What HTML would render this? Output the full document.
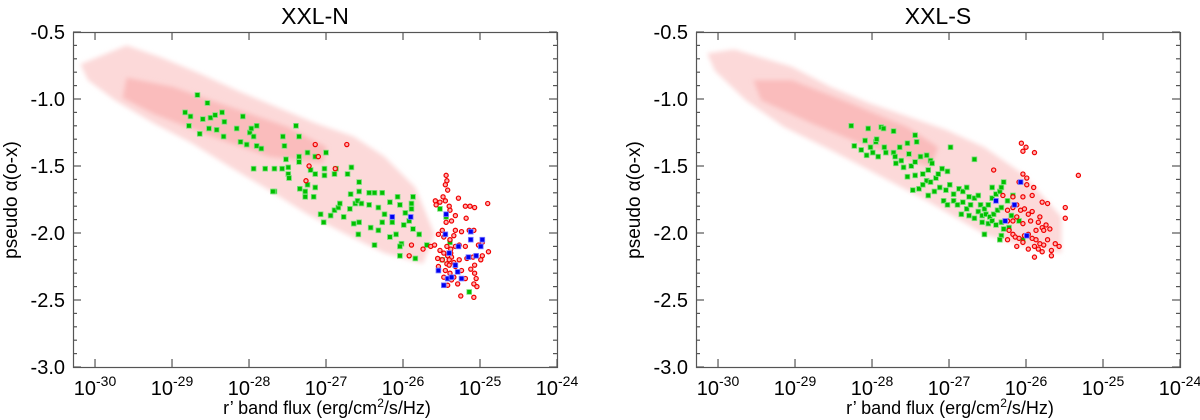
<!DOCTYPE html>
<html><head><meta charset="utf-8"><style>
html,body{margin:0;padding:0;background:#fff;width:1200px;height:420px;overflow:hidden}
svg text{font-family:"Liberation Sans",Arial,sans-serif;fill:#000}
</style></head><body>
<svg id="chart" width="1200" height="420" viewBox="0 0 1200 420" xmlns="http://www.w3.org/2000/svg">
<defs><filter id="soft" x="-10%" y="-10%" width="120%" height="120%"><feGaussianBlur stdDeviation="2.5"/></filter></defs>
</svg>
<script>
// ---- data (log10 r' flux, pseudo alpha_ox) ----
const xTickExps = [-30,-29,-28,-27,-26,-25,-24];
const yTickLabels = ["-0.5","-1.0","-1.5","-2.0","-2.5","-3.0"];
const yTickValues = [-0.5,-1.0,-1.5,-2.0,-2.5,-3.0];
const panelTitles = ["XXL-N","XXL-S"];

const cloudOuterN = [[-30.19,-0.74],[-29.59,-0.60],[-29.14,-0.69],[-28.64,-0.81],[-28.14,-0.94],[-27.64,-1.06],[-27.14,-1.18],[-26.64,-1.28],[-26.24,-1.43],[-25.84,-1.66],[-25.59,-2.01],[-25.74,-2.23],[-26.24,-2.15],[-26.74,-2.01],[-27.24,-1.86],[-27.74,-1.68],[-28.24,-1.51],[-28.74,-1.33],[-29.24,-1.18],[-29.74,-1.01],[-30.09,-0.86]];
const cloudCoreN = [[-29.59,-0.84],[-28.99,-0.91],[-28.24,-1.06],[-27.49,-1.21],[-26.99,-1.36],[-27.04,-1.48],[-27.74,-1.43],[-28.49,-1.28],[-29.24,-1.11],[-29.64,-0.99]];
const cloudOuterS = [[-30.14,-0.66],[-29.79,-0.63],[-29.04,-0.76],[-28.54,-0.91],[-28.04,-1.03],[-27.54,-1.13],[-27.04,-1.23],[-26.54,-1.36],[-26.04,-1.56],[-25.54,-1.88],[-25.54,-2.15],[-26.04,-2.10],[-26.54,-2.01],[-27.29,-1.76],[-28.04,-1.53],[-28.54,-1.38],[-29.14,-1.21],[-29.64,-1.01],[-30.04,-0.79]];
const cloudCoreS = [[-29.54,-0.86],[-29.04,-0.86],[-28.29,-1.03],[-27.54,-1.21],[-27.14,-1.36],[-27.24,-1.51],[-28.04,-1.36],[-28.79,-1.18],[-29.44,-1.01]];

const greenN = [[-28.67,-0.97],[-28.54,-1.03],[-28.83,-1.10],[-28.76,-1.13],[-28.78,-1.20],[-28.64,-1.26],[-28.60,-1.15],[-28.50,-1.14],[-28.44,-1.12],[-28.35,-1.10],[-28.32,-1.17],[-28.52,-1.22],[-28.42,-1.23],[-28.33,-1.28],[-28.16,-1.22],[-28.08,-1.13],[-28.11,-1.32],[-28.03,-1.34],[-27.99,-1.25],[-27.97,-1.22],[-27.90,-1.20],[-27.94,-1.28],[-27.90,-1.35],[-27.84,-1.37],[-27.56,-1.28],[-27.54,-1.35],[-27.39,-1.20],[-27.35,-1.28],[-27.52,-1.45],[-27.49,-1.51],[-27.57,-1.52],[-27.67,-1.52],[-27.94,-1.52],[-27.79,-1.52],[-27.49,-1.56],[-27.48,-1.59],[-27.35,-1.43],[-27.35,-1.47],[-27.24,-1.40],[-27.14,-1.43],[-27.00,-1.40],[-27.20,-1.53],[-27.14,-1.56],[-27.02,-1.52],[-27.02,-1.57],[-26.89,-1.56],[-26.87,-1.52],[-26.72,-1.56],[-26.67,-1.51],[-26.57,-1.62],[-26.68,-1.71],[-26.57,-1.69],[-26.44,-1.70],[-26.37,-1.70],[-26.27,-1.70],[-27.34,-1.67],[-27.24,-1.64],[-27.27,-1.69],[-27.14,-1.66],[-27.27,-1.73],[-27.16,-1.73],[-27.67,-1.69],[-27.69,-1.69],[-27.07,-1.86],[-27.03,-1.92],[-26.94,-1.87],[-26.89,-1.83],[-26.84,-1.81],[-26.82,-1.78],[-26.77,-1.88],[-26.69,-1.82],[-26.62,-1.78],[-26.59,-1.76],[-26.54,-1.78],[-26.64,-1.93],[-26.57,-1.92],[-26.58,-2.01],[-26.44,-1.79],[-26.32,-1.81],[-26.17,-1.77],[-26.07,-1.73],[-26.04,-1.79],[-25.89,-1.78],[-25.87,-1.73],[-25.89,-1.82],[-25.97,-1.85],[-25.92,-1.91],[-25.99,-1.94],[-25.87,-1.97],[-25.79,-2.01],[-26.24,-1.86],[-26.27,-1.92],[-26.42,-1.96],[-26.32,-1.98],[-26.14,-1.92],[-26.09,-2.01],[-26.17,-2.03],[-26.02,-2.08],[-26.04,-2.10],[-26.37,-2.09],[-26.04,-2.17],[-25.84,-2.19],[-25.69,-2.09],[-25.52,-1.82],[-25.44,-1.88],[-25.39,-2.07],[-25.49,-2.20],[-25.14,-2.44]];
const redN = [[-27.14,-1.34],[-27.10,-1.43],[-27.22,-1.50],[-26.88,-1.52],[-26.73,-1.34],[-27.26,-1.61],[-25.89,-2.09],[-25.92,-2.17],[-25.74,-2.12],[-25.64,-2.10],[-25.59,-2.09],[-25.44,-1.57],[-25.43,-1.61],[-25.45,-1.64],[-25.42,-1.68],[-25.48,-1.73],[-25.45,-1.76],[-25.58,-1.76],[-25.57,-1.79],[-25.52,-1.77],[-25.28,-1.74],[-25.40,-1.80],[-25.32,-1.87],[-25.19,-1.80],[-25.13,-1.80],[-25.07,-1.81],[-24.90,-1.78],[-25.18,-1.89],[-25.39,-1.83],[-25.37,-1.91],[-25.44,-1.92],[-25.54,-2.01],[-25.49,-1.98],[-25.32,-1.98],[-25.24,-1.99],[-25.14,-1.98],[-25.08,-1.98],[-25.47,-2.03],[-25.34,-2.02],[-25.39,-2.05],[-25.43,-2.10],[-25.38,-2.12],[-25.32,-2.10],[-25.27,-2.09],[-25.19,-2.10],[-25.02,-2.09],[-24.97,-2.07],[-24.89,-2.14],[-25.52,-2.13],[-25.47,-2.15],[-25.42,-2.17],[-25.37,-2.18],[-25.55,-2.19],[-25.49,-2.20],[-25.43,-2.23],[-25.34,-2.22],[-25.27,-2.20],[-25.17,-2.19],[-25.09,-2.18],[-24.97,-2.17],[-24.99,-2.20],[-25.54,-2.25],[-25.45,-2.28],[-25.39,-2.30],[-25.32,-2.25],[-25.24,-2.28],[-25.12,-2.27],[-25.07,-2.24],[-25.47,-2.33],[-25.37,-2.35],[-25.29,-2.38],[-25.42,-2.39],[-25.19,-2.34],[-25.07,-2.30],[-25.05,-2.34],[-25.08,-2.38],[-25.04,-2.40],[-25.25,-2.47],[-25.08,-2.48],[-25.34,-2.33],[-25.40,-2.20],[-25.38,-2.15],[-25.40,-2.24]];
const blueN = [[-26.14,-1.88],[-25.90,-1.88],[-25.44,-1.86],[-25.45,-2.01],[-25.40,-2.15],[-25.54,-2.28],[-25.47,-2.39],[-25.42,-2.34],[-25.37,-2.33],[-25.32,-2.24],[-25.29,-2.29],[-25.24,-2.34],[-25.12,-1.99],[-25.12,-2.05],[-25.15,-2.18],[-25.05,-2.17],[-24.97,-2.05],[-24.99,-2.10],[-25.28,-2.10]];

const greenS = [[-28.27,-1.20],[-28.05,-1.22],[-27.88,-1.21],[-27.85,-1.22],[-27.72,-1.24],[-28.23,-1.35],[-28.14,-1.38],[-28.09,-1.31],[-28.02,-1.36],[-27.95,-1.32],[-27.94,-1.30],[-28.07,-1.42],[-27.99,-1.40],[-27.92,-1.43],[-27.84,-1.36],[-27.82,-1.40],[-27.72,-1.40],[-27.70,-1.43],[-27.64,-1.36],[-27.54,-1.33],[-27.52,-1.41],[-27.44,-1.27],[-27.42,-1.32],[-27.69,-1.48],[-27.62,-1.46],[-27.59,-1.51],[-27.49,-1.50],[-27.44,-1.47],[-27.37,-1.43],[-27.29,-1.42],[-27.24,-1.46],[-27.22,-1.48],[-27.54,-1.58],[-27.44,-1.57],[-27.34,-1.56],[-27.27,-1.53],[-27.29,-1.61],[-27.24,-1.62],[-27.17,-1.59],[-27.14,-1.56],[-27.09,-1.52],[-27.02,-1.54],[-26.98,-1.36],[-26.67,-1.45],[-27.47,-1.68],[-27.39,-1.67],[-27.34,-1.64],[-27.27,-1.72],[-27.19,-1.69],[-27.12,-1.66],[-27.04,-1.68],[-26.99,-1.64],[-26.94,-1.71],[-26.87,-1.67],[-26.82,-1.69],[-26.77,-1.66],[-26.74,-1.73],[-27.07,-1.76],[-27.02,-1.79],[-26.94,-1.76],[-26.89,-1.79],[-26.82,-1.77],[-26.77,-1.82],[-26.72,-1.79],[-26.67,-1.74],[-26.62,-1.72],[-26.59,-1.79],[-26.54,-1.82],[-26.49,-1.79],[-26.44,-1.74],[-26.39,-1.71],[-26.34,-1.69],[-26.32,-1.66],[-26.29,-1.62],[-26.44,-1.66],[-26.62,-1.84],[-26.57,-1.87],[-26.52,-1.86],[-26.47,-1.88],[-26.42,-1.86],[-26.37,-1.83],[-26.32,-1.81],[-26.67,-1.89],[-26.57,-1.92],[-26.49,-1.93],[-26.44,-1.91],[-26.39,-1.94],[-26.32,-1.92],[-26.29,-1.97],[-26.54,-2.01],[-26.32,-2.02],[-26.34,-2.05],[-26.22,-1.96],[-26.24,-1.76],[-26.17,-1.72],[-26.09,-1.91],[-26.04,-2.05],[-26.19,-1.87],[-26.84,-1.86],[-26.74,-1.87]];
const redS = [[-26.06,-1.33],[-26.00,-1.36],[-26.04,-1.39],[-25.89,-1.40],[-26.42,-1.53],[-26.04,-1.56],[-25.99,-1.59],[-26.09,-1.62],[-25.99,-1.64],[-25.90,-1.66],[-26.30,-1.72],[-26.17,-1.73],[-26.04,-1.73],[-25.92,-1.72],[-25.79,-1.77],[-25.72,-1.78],[-25.49,-1.81],[-25.49,-1.89],[-25.32,-1.57],[-26.24,-1.83],[-26.17,-1.81],[-26.12,-1.79],[-26.07,-1.83],[-26.02,-1.82],[-25.97,-1.86],[-25.92,-1.84],[-26.24,-1.91],[-26.17,-1.91],[-26.12,-1.88],[-26.04,-1.93],[-25.94,-1.91],[-25.84,-1.92],[-25.79,-1.96],[-25.74,-1.94],[-25.82,-1.88],[-25.87,-1.98],[-25.77,-1.98],[-25.69,-1.97],[-26.22,-1.98],[-26.17,-2.01],[-26.14,-2.03],[-26.09,-2.04],[-26.02,-2.02],[-25.97,-2.01],[-25.92,-2.04],[-25.87,-2.05],[-25.82,-2.08],[-25.89,-2.10],[-25.84,-2.12],[-25.77,-2.09],[-25.72,-2.05],[-25.62,-2.08],[-25.67,-2.13],[-25.67,-2.17],[-25.79,-2.14],[-25.89,-2.18],[-26.04,-2.07],[-26.12,-2.10],[-26.24,-2.05],[-25.97,-2.12],[-25.57,-2.10]];
const blueS = [[-26.07,-1.62],[-26.39,-1.76],[-26.15,-1.79],[-26.27,-1.91],[-25.99,-2.02]];

// ---- layout ----
const NS = "http://www.w3.org/2000/svg";
const svg = document.getElementById("chart");
const panels = [
  {left:73, key:"xxl-n", outer:cloudOuterN, core:cloudCoreN, green:greenN, red:redN, blue:blueN},
  {left:696, key:"xxl-s", outer:cloudOuterS, core:cloudCoreS, green:greenS, red:redS, blue:blueS}
];
const W = 484, TOP = 32, BOT = 367;
function mk(tag, attrs, parent){ const e=document.createElementNS(NS,tag); for(const k in attrs) e.setAttribute(k,attrs[k]); (parent||svg).appendChild(e); return e; }

panels.forEach((p,pi)=>{
  const xs = v => p.left + (v - (-30.286)) / 6.286 * W;
  const ys = v => TOP + (-0.5 - v) / 2.5 * (BOT - TOP);
  const g = mk("g",{});
  
  
  const clipId = "clip"+pi;
  const cp = mk("clipPath",{id:clipId},g); mk("rect",{x:p.left,y:TOP,width:W,height:BOT-TOP},cp);
  const plot = mk("g",{"clip-path":"url(#"+clipId+")"},g);
  const poly = arr => arr.map(d=>xs(d[0]).toFixed(1)+","+ys(d[1]).toFixed(1)).join(" ");
  const o = mk("polygon",{points:poly(p.outer),fill:"#fcd9d9",filter:"url(#soft)"},plot);
  
  
  const c = mk("polygon",{points:poly(p.core),fill:"#fabcbc",filter:"url(#soft)"},plot);
  
  
  p.green.forEach(d=>{
    const r = mk("rect",{x:xs(d[0])-2.4,y:ys(d[1])-2.4,width:4.8,height:4.8,fill:"#00c000",stroke:"#7fe07f","stroke-width":0.8},plot);
    
    
  });
  p.red.forEach(d=>{
    const r = mk("circle",{cx:xs(d[0]),cy:ys(d[1]),r:2.1,fill:"#ffb0b0",stroke:"#f00000","stroke-width":1.2},plot);
    
    
  });
  p.blue.forEach(d=>{
    const r = mk("rect",{x:xs(d[0])-2.4,y:ys(d[1])-2.4,width:4.8,height:4.8,fill:"#0000f0",stroke:"#8080ff","stroke-width":0.8},plot);
    
    
  });
  const box = mk("rect",{x:p.left+0.5,y:TOP+0.5,width:W,height:BOT-TOP,fill:"none",stroke:"#555","stroke-width":1.2},g);
  
  
  for(let v=-0.5; v>=-3.0001; v-=0.1){
    const y = ys(v); const major = Math.abs(v*2-Math.round(v*2))<1e-6;
    const L = major?8:4;
    mk("line",{x1:p.left,x2:p.left+L,y1:y,y2:y,stroke:"#555","stroke-width":1.2},g);
    mk("line",{x1:p.left+W,x2:p.left+W-L,y1:y,y2:y,stroke:"#555","stroke-width":1.2},g);
  }
  yTickValues.forEach((v,i)=>{
    const t = mk("text",{x:p.left-8,y:ys(v)+7,"text-anchor":"end","font-size":20},g);
    t.textContent = yTickLabels[i];
    
    
  });
  xTickExps.forEach(e=>{
    const x = xs(e);
    mk("line",{x1:x,x2:x,y1:BOT,y2:BOT-8,stroke:"#555","stroke-width":1.2},g);
    mk("line",{x1:x,x2:x,y1:TOP,y2:TOP+8,stroke:"#555","stroke-width":1.2},g);
    const t = mk("text",{x:x,y:395,"text-anchor":"middle","font-size":20},g);
    t.innerHTML = '10<tspan dy="-9" font-size="14">'+e+'</tspan>';
    
    
  });
  const title = mk("text",{x:p.left+W/2,y:24,"text-anchor":"middle","font-size":23},g);
  title.textContent = panelTitles[pi];
  
  
  const xt = mk("text",{x:p.left+W/2+12,y:414,"text-anchor":"middle","font-size":18},g);
  xt.innerHTML = 'r’ band flux (erg/cm<tspan dy="-7" font-size="12">2</tspan><tspan dy="7">/s/Hz)</tspan>';
  
  
  const yt = mk("text",{x:0,y:0,"text-anchor":"middle","font-size":19,transform:"translate("+(p.left-56)+",200) rotate(-90)"},g);
  yt.textContent = 'pseudo α(o-x)';
  
  
});
</script>
</body></html>
